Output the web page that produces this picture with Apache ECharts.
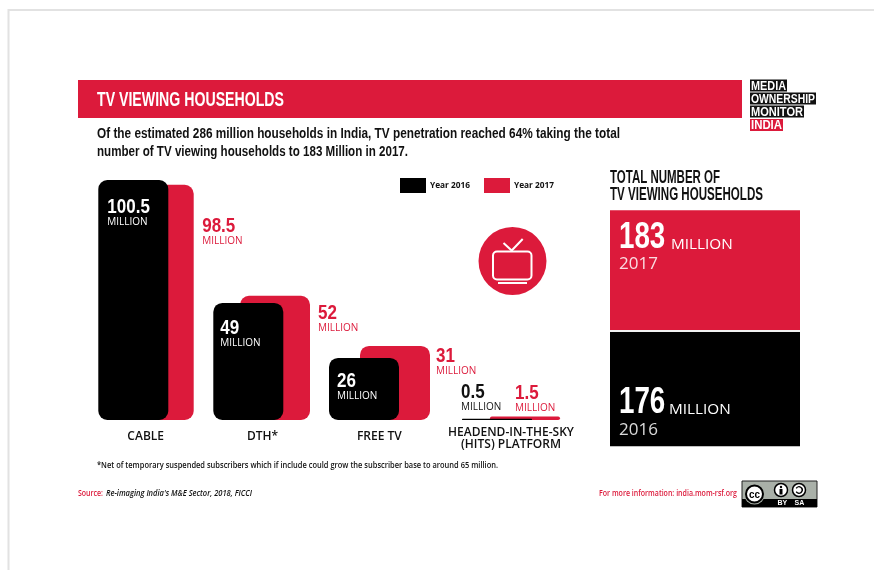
<!DOCTYPE html>
<html>
<head>
<meta charset="utf-8">
<title>TV Viewing Households</title>
<script src="https://cdn.jsdelivr.net/npm/echarts@6/dist/echarts.min.js"></script>
<style>html,body{margin:0;padding:0;background:#fff}#chart{width:874px;height:570px}</style>
</head>
<body>
<div id="chart"></div>
<script>
// Households by platform, in millions
const categories = ['CABLE', 'DTH*', 'FREE TV', 'HEADEND-IN-THE-SKY\n(HITS) PLATFORM'];
const year2016 = [100.5, 49, 26, 0.5];
const year2017 = [98.5, 52, 31, 1.5];

// Total TV viewing households, in millions
const totalYears = [2016, 2017];
const total2016 = [176];
const total2017 = [183];

const RED = '#dc1a3b';
const BLACK = '#000';
const HEAVY = '"Liberation Sans", Arial, sans-serif';
const SANS = '"Open Sans", "Noto Sans", sans-serif';
const BAR_WIDTH = 70;
const RADIUS = 9;

// Per-group drawing offsets: bar shift from the group centre, and where the
// value label sits relative to the bar's left edge and top edge.
const layout2016 = {
  shift: [-47.4, -49.2, -50.3, -49],
  labelX: [9, 7, 8, -1],
  labelY: [27.5, 25, 23, -26.5]
};
const layout2017 = {
  shift: [-22, -22.5, -19.3, -21],
  labelX: [78.5, 78, 76, 25],
  labelY: [41.5, 17.5, 10.5, -23.5]
};

// Horizontal squeeze that brings a string to the width it should occupy,
// giving the tall condensed look of the headline type.
const measureCtx = document.createElement('canvas').getContext('2d');
function squeeze(str, font, width) {
  measureCtx.font = (font.fontStyle || 'normal') + ' ' + (font.fontWeight || 'normal') + ' ' + font.fontSize + 'px ' + font.fontFamily;
  return width / measureCtx.measureText(str).width;
}

const heavy = size => ({ fontFamily: HEAVY, fontWeight: 'bold', fontSize: size });
const sans = (size, weight, style) => ({ fontFamily: SANS, fontSize: size, fontWeight: weight || 'normal', fontStyle: style || 'normal' });

function textEl(x, y, str, font, fill, width) {
  return {
    type: 'text', x: x, y: y, silent: true, z: 10,
    scaleX: width ? squeeze(str, font, width) : 1,
    style: Object.assign({ x: 0, y: 0, text: str, fill: fill, align: 'left', verticalAlign: 'middle' }, font)
  };
}

function barRenderer(layout, fill, labelColor, firstIndex) {
  return function (params, api) {
    const i = params.dataIndex + firstIndex;
    const value = api.value(1);
    const base = api.coord([api.value(0), 0]);
    const top = api.coord([api.value(0), value]);
    const left = base[0] + layout.shift[i];
    const height = base[1] - top[1];
    const tx = left + layout.labelX[i];
    const ty = top[1] + layout.labelY[i];
    const number = textEl(tx, ty, String(value), heavy(21), labelColor);
    number.scaleX = 0.81;
    return {
      type: 'group',
      children: [
        {
          type: 'rect',
          shape: { x: left, y: top[1], width: BAR_WIDTH, height: height, r: Math.min(RADIUS, height / 2) },
          style: { fill: fill }
        },
        number,
        textEl(tx, ty + 15, 'MILLION', sans(10), labelColor)
      ]
    };
  };
}

function pairs(values, from, to) {
  return values.slice(from, to).map((v, k) => [k, v]);
}

function barSeries(name, values, layout, fill, labelColor, axis, from, to) {
  return {
    name: name,
    type: 'custom',
    xAxisIndex: axis,
    yAxisIndex: axis,
    itemStyle: { color: fill },
    encode: { x: 0, y: 1 },
    data: pairs(values, from, to),
    renderItem: barRenderer(layout, fill, labelColor, from),
    animation: false,
    silent: true,
    clip: false
  };
}

// Figures written on the stacked totals, placed from each block's stacked top
function totalLabels(params, api) {
  const value = api.value(1);
  const top = api.coord([0, api.value(2)]);
  const first = params.dataIndex === 1;
  const y = top[1] + (first ? 25.5 : 71);
  const number = textEl(619, y + 1.5, String(value), heavy(37), '#fff');
  number.scaleX = 0.75;
  return {
    type: 'group',
    children: [
      number,
      textEl(first ? 671 : 669, y + 8.5, 'MILLION', sans(15.3), '#fff'),
      textEl(619, y + 28.5, String(totalYears[params.dataIndex]), sans(17), 'rgba(255,255,255,0.85)')
    ]
  };
}

function logoLine(y, w, str, bg) {
  return [
    { type: 'rect', shape: { x: 750, y: y, width: w, height: 12 }, style: { fill: bg }, silent: true },
    textEl(751, y + 6.5, str, heavy(13.5), '#fff', w - 2)
  ];
}

// Header, notes, logo and badges
const GREY = '#a9b0a8';
const graphic = [
  { type: 'rect', shape: { x: 8.5, y: 10, width: 900, height: 600 }, style: { fill: 'none', stroke: '#e2e2e2', lineWidth: 2 }, silent: true },
  { type: 'rect', shape: { x: 78, y: 80, width: 664, height: 38 }, style: { fill: RED }, silent: true },
  textEl(97, 100.5, 'TV VIEWING HOUSEHOLDS', heavy(20), '#fff', 187),
  textEl(97, 134.5, 'Of the estimated 286 million households in India, TV penetration reached 64% taking the total', heavy(14), '#111', 523),
  textEl(97, 152.5, 'number of TV viewing households to 183 Million in 2017.', heavy(14), '#111', 311),
  ...logoLine(79.5, 37, 'MEDIA', '#111'),
  ...logoLine(92.5, 66, 'OWNERSHIP', '#111'),
  ...logoLine(105.5, 54, 'MONITOR', '#111'),
  ...logoLine(119, 33, 'INDIA', RED),
  textEl(610, 178.5, 'TOTAL NUMBER OF', heavy(18), '#111', 110),
  textEl(610, 195.5, 'TV VIEWING HOUSEHOLDS', heavy(18), '#111', 153),
  // television icon
  { type: 'circle', shape: { cx: 512.5, cy: 261, r: 34 }, style: { fill: RED }, silent: true },
  { type: 'rect', shape: { x: 493, y: 251.5, width: 38.5, height: 28, r: 4 }, style: { fill: 'none', stroke: '#fff', lineWidth: 2 }, silent: true },
  { type: 'polyline', shape: { points: [[503.5, 243], [511.7, 250.5], [522.7, 239]] }, style: { fill: 'none', stroke: '#fff', lineWidth: 2 }, silent: true },
  { type: 'line', shape: { x1: 498, y1: 283, x2: 527, y2: 283 }, style: { stroke: '#fff', lineWidth: 2 }, silent: true },
  // notes
  textEl(97, 465.5, '*Net of temporary suspended subscribers which if include could grow the subscriber base to around 65 million.', sans(8, 600), '#111', 401),
  textEl(78, 493.5, 'Source:', sans(8, 600), RED, 25),
  textEl(106, 493.5, "Re-imaging India's M&E Sector, 2018, FICCI", sans(8, 600, 'italic'), '#111', 146),
  textEl(599, 493.5, 'For more information: india.mom-rsf.org', sans(8, 600), RED, 138),
  // licence badge
  { type: 'rect', shape: { x: 742, y: 481, width: 75, height: 26 }, style: { fill: GREY, stroke: '#222', lineWidth: 1 }, silent: true },
  { type: 'rect', shape: { x: 742, y: 499, width: 75, height: 8 }, style: { fill: '#000' }, silent: true },
  { type: 'circle', shape: { cx: 754.5, cy: 494, r: 10.5 }, style: { fill: GREY }, silent: true },
  { type: 'circle', shape: { cx: 754.5, cy: 494, r: 8.5 }, style: { fill: '#fff', stroke: '#000', lineWidth: 2 }, silent: true },
  textEl(749, 494.5, 'cc', heavy(11), '#000', 11),
  { type: 'circle', shape: { cx: 781, cy: 490, r: 6.5 }, style: { fill: '#fff', stroke: '#000', lineWidth: 1.5 }, silent: true },
  { type: 'circle', shape: { cx: 781, cy: 487, r: 1.2 }, style: { fill: '#000' }, silent: true },
  { type: 'rect', shape: { x: 779.5, y: 489, width: 3, height: 5.5 }, style: { fill: '#000' }, silent: true },
  { type: 'circle', shape: { cx: 799, cy: 490, r: 6.5 }, style: { fill: '#fff', stroke: '#000', lineWidth: 1.5 }, silent: true },
  { type: 'arc', shape: { cx: 799, cy: 490, r: 3.2, startAngle: -2.6, endAngle: 2.6 }, style: { fill: 'none', stroke: '#000', lineWidth: 1.4 }, silent: true },
  textEl(777.5, 503, 'BY', heavy(7), '#fff'),
  textEl(794.5, 503, 'SA', heavy(7), '#fff')
];

const hiddenValueAxis = (grid, max) => ({
  type: 'value', gridIndex: grid, min: 0, max: max, show: false
});
const categoryLabel = margin => ({
  show: true, interval: 0, margin: margin, color: '#111',
  fontFamily: SANS, fontWeight: 600, fontSize: 12, lineHeight: 12.5
});

const chart = echarts.init(document.getElementById('chart'), null, { renderer: 'canvas' });
chart.setOption({
  animation: false,
  backgroundColor: '#fff',
  legend: {
    data: ['Year 2016', 'Year 2017'],
    left: 400, top: 178,
    itemWidth: 26, itemHeight: 15, itemGap: 14,
    icon: 'rect', selectedMode: false,
    padding: 0,
    textStyle: { fontFamily: SANS, fontWeight: 700, fontSize: 8.3, color: '#111', padding: [0, 0, 0, -1] }
  },
  grid: [
    { left: 87.3, top: 180, width: 350.4, height: 240 },
    { left: 461, top: 180, width: 100, height: 240 },
    { left: 610, top: 210.3, width: 190, height: 236 }
  ],
  xAxis: [
    { type: 'category', gridIndex: 0, data: categories.slice(0, 3), axisLine: { show: false }, axisTick: { show: false }, axisLabel: categoryLabel(10) },
    { type: 'category', gridIndex: 1, data: categories.slice(3), axisLine: { show: false }, axisTick: { show: false }, axisLabel: categoryLabel(6) },
    { type: 'category', gridIndex: 2, data: ['Total'], show: false }
  ],
  yAxis: [hiddenValueAxis(0, 100.5), hiddenValueAxis(1, 100.5), hiddenValueAxis(2, 359)],
  graphic: graphic,
  series: [
    barSeries('Year 2017', year2017, layout2017, RED, RED, 0, 0, 3),
    barSeries('Year 2016', year2016, layout2016, BLACK, '#fff', 0, 0, 3),
    barSeries('Year 2017', year2017, layout2017, RED, RED, 1, 3, 4),
    barSeries('Year 2016', year2016, layout2016, BLACK, '#111', 1, 3, 4),
    {
      name: 'Total 2016', type: 'bar', stack: 'total', xAxisIndex: 2, yAxisIndex: 2, barWidth: '100%', z: 2,
      data: total2016, itemStyle: { color: BLACK }, silent: true,
      markLine: {
        silent: true, symbol: 'none', label: { show: false }, animation: false,
        lineStyle: { color: '#f2f2f2', width: 2, type: 'solid' },
        data: [{ yAxis: total2016[0] }]
      }
    },
    {
      name: 'Total 2017', type: 'bar', stack: 'total', xAxisIndex: 2, yAxisIndex: 2, barWidth: '100%', z: 2,
      data: total2017, itemStyle: { color: RED }, silent: true
    },
    {
      name: 'Total labels', type: 'custom', xAxisIndex: 2, yAxisIndex: 2, silent: true, animation: false, clip: false, z: 6,
      encode: { x: 0, y: 2 },
      data: [
        [0, total2016[0], total2016[0]],
        [0, total2017[0], total2016[0] + total2017[0]]
      ],
      renderItem: totalLabels
    }
  ]
});
</script>
</body>
</html>
